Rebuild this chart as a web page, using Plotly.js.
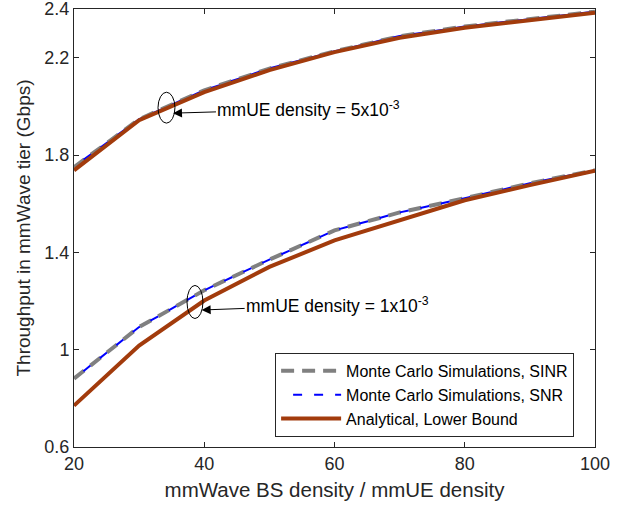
<!DOCTYPE html>
<html>
<head>
<meta charset="utf-8">
<script src="https://cdn.plot.ly/plotly-3.0.1.min.js"></script>
<style>html,body{margin:0;padding:0;background:#fff;}#chart{width:630px;height:506px;}</style>
</head>
<body>
<div id="chart"></div>
<script>
// density ratio (mmWave BS density / mmUE density)
const ratio = [20, 30, 40, 50, 60, 70, 80, 90, 100];

// mmUE density = 5e-3
const sinrHigh = [1.750, 1.947, 2.066, 2.155, 2.226, 2.288, 2.328, 2.359, 2.389];
const snrHigh  = [1.752, 1.947, 2.066, 2.156, 2.226, 2.289, 2.328, 2.359, 2.389];
const anaHigh  = [1.737, 1.943, 2.058, 2.149, 2.223, 2.282, 2.323, 2.355, 2.385];

// mmUE density = 1e-3
const sinrLow = [0.881, 1.093, 1.244, 1.370, 1.490, 1.564, 1.622, 1.684, 1.737];
const snrLow  = [0.881, 1.093, 1.244, 1.370, 1.490, 1.564, 1.622, 1.684, 1.737];
const anaLow  = [0.770, 1.017, 1.202, 1.340, 1.449, 1.532, 1.614, 1.676, 1.735];

const yTicks = [0.6, 1, 1.4, 1.8, 2.2, 2.4];
const yTickText = ['0.6', '1', '1.4', '1.8', '2.2', '2.4'];
const xTicks = [20, 40, 60, 80, 100];

const names = ['Monte Carlo Simulations, SINR', 'Monte Carlo Simulations, SNR', 'Analytical, Lower Bound'];

const gray = {color: '#808080', width: 4, dash: '13px,8px'};
const blue = {color: '#0000FF', width: 2, dash: '0px,12px,9px,0px'};
const brown = {color: '#A23B0C', width: 4};

const traces = [
  {x: ratio, y: sinrLow, mode: 'lines', line: gray, name: names[0], legendrank: 1},
  {x: ratio, y: snrLow, mode: 'lines', line: blue, name: names[1], legendrank: 2},
  {x: ratio, y: sinrHigh, mode: 'lines', line: gray, showlegend: false},
  {x: ratio, y: snrHigh, mode: 'lines', line: blue, showlegend: false},
  {x: ratio, y: anaLow, mode: 'lines', line: brown, name: names[2], legendrank: 3},
  {x: ratio, y: anaHigh, mode: 'lines', line: brown, showlegend: false}
];

const font = 'Liberation Sans, Arial, sans-serif';
const axisCol = '#262626';

const layout = {
  width: 630, height: 506,
  margin: {l: 74, r: 35, t: 9, b: 59},
  paper_bgcolor: '#fff', plot_bgcolor: '#fff',
  font: {family: font, color: axisCol, size: 16},
  showlegend: true,
  legend: {
    x: 0.386, y: 0.023, xanchor: 'left', yanchor: 'bottom',
    bordercolor: axisCol, borderwidth: 1, bgcolor: '#fff',
    font: {family: font, size: 16, color: '#000'},
    tracegroupgap: 0, itemwidth: 60
  },
  xaxis: {
    range: [20, 100], tickvals: xTicks, ticks: 'inside', ticklen: 5,
    tickcolor: axisCol, showline: true, linecolor: axisCol, linewidth: 1,
    mirror: 'ticks', showgrid: false, zeroline: false, ticklabeloverflow: 'allow',
    tickfont: {size: 18, color: axisCol},
    title: {text: 'mmWave BS density / mmUE density', font: {size: 20.5, color: axisCol}, standoff: 10}
  },
  yaxis: {
    range: [0.6, 2.4], tickvals: yTicks, ticktext: yTickText, ticks: 'inside', ticklen: 5,
    tickcolor: axisCol, showline: true, linecolor: axisCol, linewidth: 1,
    mirror: 'ticks', showgrid: false, zeroline: false, ticklabeloverflow: 'allow',
    tickfont: {size: 18, color: axisCol},
    title: {text: 'Throughput in mmWave tier (Gbps)', font: {size: 19, color: axisCol}, standoff: 8}
  },
  shapes: [
    {type: 'circle', xref: 'x', yref: 'y', x0: 32.9, x1: 35.5, y0: 1.931, y1: 2.058, line: {color: '#000', width: 1}},
    {type: 'circle', xref: 'x', yref: 'y', x0: 37.35, x1: 39.8, y0: 1.128, y1: 1.264, line: {color: '#000', width: 1}}
  ],
  annotations: [
    {x: 35.2, y: 1.972, xref: 'x', yref: 'y', text: 'mmUE density = 5x10<sup>-3</sup>',
     showarrow: true, arrowhead: 2, arrowsize: 1.8, arrowwidth: 1, arrowcolor: '#000',
     ax: 136, ay: -4, font: {size: 17.5, color: '#000'}, xanchor: 'center'},
    {x: 39.6, y: 1.163, xref: 'x', yref: 'y', text: 'mmUE density = 1x10<sup>-3</sup>',
     showarrow: true, arrowhead: 2, arrowsize: 1.8, arrowwidth: 1, arrowcolor: '#000',
     ax: 136, ay: -5, font: {size: 17.5, color: '#000'}, xanchor: 'center'}
  ]
};

Plotly.newPlot('chart', traces, layout, {displayModeBar: false, staticPlot: true});
</script>
</body>
</html>
